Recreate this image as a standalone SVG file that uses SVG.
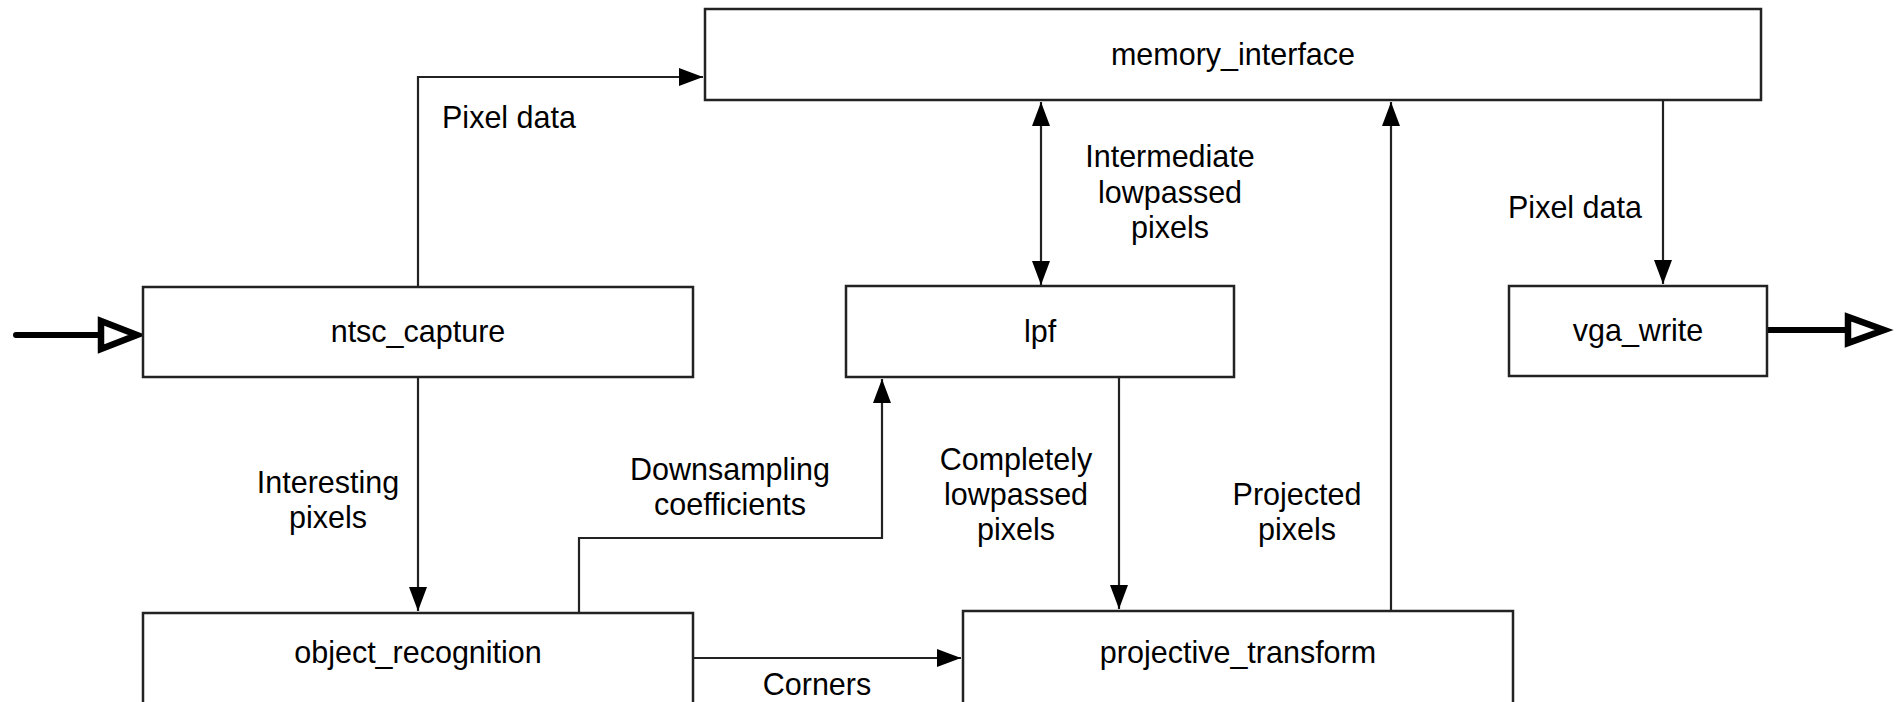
<svg xmlns="http://www.w3.org/2000/svg" width="1898" height="702" viewBox="0 0 1898 702">
<style>
.box{fill:#fff;stroke:#222;stroke-width:2.5}
.ln{fill:none;stroke:#222;stroke-width:2.2}
.io{fill:none;stroke:#000;stroke-width:6;stroke-linecap:round}
.tri{fill:#fff;stroke:#000;stroke-width:6.5;stroke-linejoin:miter}
text{font-family:"Liberation Sans",Arial,sans-serif;font-size:30.5px;fill:#000;text-anchor:middle}
</style>
<defs>
<marker id="ah" markerUnits="userSpaceOnUse" markerWidth="26" markerHeight="20" refX="24" refY="9" orient="auto-start-reverse" viewBox="0 0 26 20">
<path d="M0,0 L24,9 L0,18 z" fill="#000"/>
</marker>
</defs>
<rect width="1898" height="702" fill="#fff"/>
<g id="connectors">
<path class="ln" d="M418,287 V77 H703" marker-end="url(#ah)"/>
<path class="ln" d="M1041,102 V285" marker-start="url(#ah)" marker-end="url(#ah)"/>
<path class="ln" d="M1663,101 V284" marker-end="url(#ah)"/>
<path class="ln" d="M418,377 V611" marker-end="url(#ah)"/>
<path class="ln" d="M579,613 V538 H882 V379" marker-end="url(#ah)"/>
<path class="ln" d="M1119,377 V609" marker-end="url(#ah)"/>
<path class="ln" d="M1391,611 V102" marker-end="url(#ah)"/>
<path class="ln" d="M693,658 H961" marker-end="url(#ah)"/>
<path class="io" d="M16,335 H100"/>
<path class="tri" d="M101,321 L101,349 L137,335 z"/>
<path class="io" d="M1767,330 H1848"/>
<path class="tri" d="M1848,317 L1848,343 L1884,330 z"/>
<text x="509" y="128">Pixel data</text>
<text x="1170" y="167">Intermediate</text>
<text x="1170" y="203">lowpassed</text>
<text x="1170" y="238">pixels</text>
<text x="1575" y="218">Pixel data</text>
<text x="328" y="493">Interesting</text>
<text x="328" y="528">pixels</text>
<text x="730" y="480">Downsampling</text>
<text x="730" y="515">coefficients</text>
<text x="1016" y="470">Completely</text>
<text x="1016" y="505">lowpassed</text>
<text x="1016" y="540">pixels</text>
<text x="1297" y="505">Projected</text>
<text x="1297" y="540">pixels</text>
<text x="817" y="695">Corners</text>
</g>
<g id="memory_interface">
<rect class="box" x="705" y="9" width="1056" height="91"/>
<text x="1233" y="65">memory_interface</text>
</g>
<g id="ntsc_capture">
<rect class="box" x="143" y="287" width="550" height="90"/>
<text x="418" y="342">ntsc_capture</text>
</g>
<g id="lpf">
<rect class="box" x="846" y="286" width="388" height="91"/>
<text x="1040" y="342">lpf</text>
</g>
<g id="vga_write">
<rect class="box" x="1509" y="286" width="258" height="90"/>
<text x="1638" y="341">vga_write</text>
</g>
<g id="object_recognition">
<rect class="box" x="143" y="613" width="550" height="110"/>
<text x="418" y="663">object_recognition</text>
</g>
<g id="projective_transform">
<rect class="box" x="963" y="611" width="550" height="110"/>
<text x="1238" y="663">projective_transform</text>
</g>
</svg>
